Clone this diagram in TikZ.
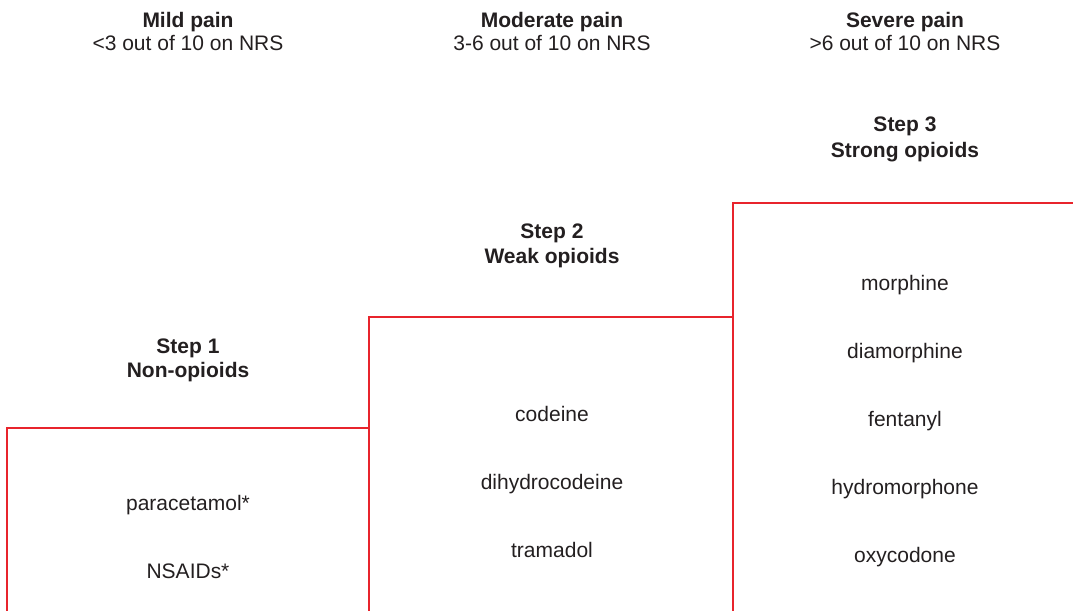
\documentclass[tikz,border=0pt]{standalone}
\usepackage{fontspec}
\setmainfont{Liberation Sans}
\usetikzlibrary{positioning}
\definecolor{painred}{RGB}{232,36,44}
\definecolor{txtgrey}{RGB}{35,31,32}

\begin{document}
\begin{tikzpicture}[x=0.5pt,y=-0.5pt,inner sep=0pt,node distance=34pt,
		every node/.style={text=txtgrey,font=\fontsize{10.5}{12}\selectfont,
			text height=7.8pt,text depth=2.2pt},
		title/.style={font=\fontsize{10.5}{12}\selectfont\bfseries},
		stepline/.style={draw=painred,line width=0.75pt}]
		\useasboundingbox (0,0) rectangle (1073,611);

		% pain levels
		\node[title, anchor=base]	(mild) 		at (188,27) 	{Mild pain};
		\node[node distance=11.5pt]	(mildnrs) 	[below of=mild] {<3 out of 10 on NRS};
		\node[title, anchor=base]	(moderate) 	at (552,27) 	{Moderate pain};
		\node[node distance=11.5pt]	(modnrs) 	[below of=moderate] {3-6 out of 10 on NRS};
		\node[title, anchor=base]	(severe) 	at (905,27) 	{Severe pain};
		\node[node distance=11.5pt]	(sevnrs) 	[below of=severe] {>6 out of 10 on NRS};

		% ladder
		\draw[stepline] (7,611) |- (369,428);
		\draw[stepline] (369,611) |- (733,317);
		\draw[stepline] (733,611) |- (1073,203);

		\node[title, anchor=base]	(s1) 		at (188,353) 	{Step 1};
		\node[title, node distance=12pt] (s1name) [below of=s1] {Non-opioids};
		\node[title, anchor=base]	(s2) 		at (552,238) 	{Step 2};
		\node[title, node distance=12.5pt] (s2name) [below of=s2] {Weak opioids};
		\node[title, anchor=base]	(s3) 		at (905,131) 	{Step 3};
		\node[title, node distance=13pt] (s3name) [below of=s3] {Strong opioids};

		% drugs
		\node[anchor=base]	(para) 	at (188,510) 	{paracetamol*};
		\node				(nsaid) [below of=para] {NSAIDs*};
		\node[anchor=base]	(cod) 	at (552,421) 	{codeine};
		\node				(dhc) 	[below of=cod] 	{dihydrocodeine};
		\node				(tram) 	[below of=dhc] 	{tramadol};
		\node[anchor=base]	(morph) at (905,290) 	{morphine};
		\node				(diam) 	[below of=morph] {diamorphine};
		\node				(fent) 	[below of=diam] {fentanyl};
		\node				(hydro) [below of=fent] {hydromorphone};
		\node				(oxy) 	[below of=hydro] {oxycodone};
\end{tikzpicture}
\end{document}
